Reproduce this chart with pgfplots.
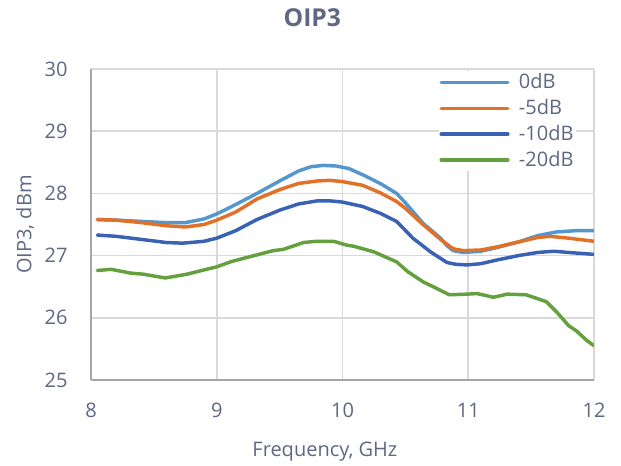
\documentclass[border=0pt]{standalone}
\usepackage{pgfplots}
\pgfplotsset{compat=1.18}
\usepackage{fontspec}
\setmainfont{Open Sans}
\definecolor{txt}{RGB}{94,104,130}
\definecolor{czero}{RGB}{84,150,206}
\definecolor{cfive}{RGB}{225,113,40}
\definecolor{cten}{RGB}{58,98,178}
\definecolor{ctwenty}{RGB}{100,160,62}
\definecolor{gridc}{RGB}{217,217,217}
\definecolor{axc}{RGB}{166,166,166}
\begin{document}
\begin{tikzpicture}[x=0.75pt,y=0.75pt]
\useasboundingbox (-91,-86) rectangle (530,380);
\begin{axis}[
  at={(0,0)}, anchor=south west,
  scale only axis, width=503*0.75pt, height=311*0.75pt,
  xmin=8, xmax=12, ymin=25, ymax=30,
  xtick={8,9,10,11,12}, ytick={25,26,27,28,29,30},
  major tick length=0pt,
  grid=major,
  major grid style={gridc, line width=1.2pt},
  axis x line=bottom, axis y line=left,
  axis line style={axc, line width=1.3pt, -},
  font=\fontsize{15}{18}\selectfont,
  /pgf/number format/assume math mode=true,
  tick label style={txt, font=\fontsize{15}{18}\selectfont},
  xticklabel style={yshift=-14pt},
  yticklabel style={xshift=-14pt},
  title={\textbf{OIP3}},
  title style={txt, font=\fontsize{18.5}{21}\selectfont, at={(axis description cs:0.44,1.14)}, anchor=center},
  xlabel={Frequency, GHz},
  ylabel={OIP3, dBm},
  xlabel style={txt, at={(axis description cs:0.465,-0.232)}, anchor=center},
  ylabel style={txt, at={(axis description cs:-0.131,0.5)}, anchor=center, rotate=0},
  legend style={at={(axis description cs:0.965,0.994)}, anchor=north east, draw=none, fill=white, text=txt, font=\fontsize{15}{18}\selectfont, row sep=2.5pt, column sep=5pt, inner sep=0pt},
  legend cell align=left,
  legend image code/.code={\draw[#1] (0pt,0pt) -- (50pt,0pt);},
  legend image post style={line width=2.6pt, line cap=round},
  every axis plot/.append style={line width=2.6pt, line join=round, line cap=round},
]
\addplot[czero] coordinates {
(8.05,27.58) (8.2,27.57) (8.4,27.55) (8.6,27.53) (8.75,27.53) (8.9,27.59) (9.0,27.67) (9.15,27.82) (9.32,28.00) (9.5,28.20) (9.65,28.36) (9.75,28.43) (9.85,28.45) (9.95,28.44) (10.05,28.40) (10.16,28.30) (10.3,28.16) (10.43,28.00) (10.5,27.85) (10.64,27.52) (10.78,27.28) (10.83,27.16) (10.88,27.08) (10.96,27.05) (11.1,27.07) (11.23,27.13) (11.4,27.22) (11.55,27.32) (11.7,27.38) (11.85,27.40) (12.0,27.40)
};
\addlegendentry{0dB}
\addplot[cfive] coordinates {
(8.05,27.58) (8.2,27.57) (8.4,27.53) (8.6,27.48) (8.75,27.46) (8.9,27.50) (9.0,27.57) (9.15,27.70) (9.32,27.91) (9.5,28.06) (9.65,28.16) (9.8,28.20) (9.9,28.21) (10.0,28.19) (10.16,28.13) (10.3,28.01) (10.43,27.87) (10.5,27.76) (10.64,27.50) (10.78,27.26) (10.88,27.11) (10.96,27.08) (11.1,27.09) (11.23,27.14) (11.4,27.22) (11.55,27.29) (11.65,27.31) (11.8,27.28) (12.0,27.23)
};
\addlegendentry{-5dB}
\addplot[cten] coordinates {
(8.05,27.33) (8.2,27.31) (8.4,27.26) (8.6,27.21) (8.73,27.20) (8.9,27.23) (9.0,27.28) (9.15,27.40) (9.32,27.58) (9.5,27.73) (9.65,27.83) (9.8,27.88) (9.9,27.88) (10.0,27.86) (10.16,27.79) (10.3,27.68) (10.43,27.55) (10.56,27.28) (10.70,27.06) (10.83,26.89) (10.9,26.86) (10.99,26.85) (11.1,26.87) (11.23,26.93) (11.4,27.00) (11.55,27.05) (11.68,27.07) (11.8,27.05) (12.0,27.02)
};
\addlegendentry{-10dB}
\addplot[ctwenty] coordinates {
(8.05,26.76) (8.16,26.78) (8.31,26.72) (8.42,26.70) (8.59,26.64) (8.76,26.70) (9.0,26.82) (9.11,26.90) (9.24,26.97) (9.45,27.08) (9.53,27.10) (9.69,27.21) (9.79,27.23) (9.93,27.23) (10.03,27.17) (10.09,27.15) (10.25,27.06) (10.35,26.97) (10.43,26.90) (10.52,26.74) (10.64,26.58) (10.75,26.47) (10.85,26.37) (10.99,26.38) (11.07,26.39) (11.20,26.33) (11.31,26.38) (11.46,26.37) (11.62,26.26) (11.70,26.10) (11.80,25.87) (11.86,25.79) (11.94,25.64) (12.0,25.55)
};
\addlegendentry{-20dB}
\end{axis}
\end{tikzpicture}
\end{document}
